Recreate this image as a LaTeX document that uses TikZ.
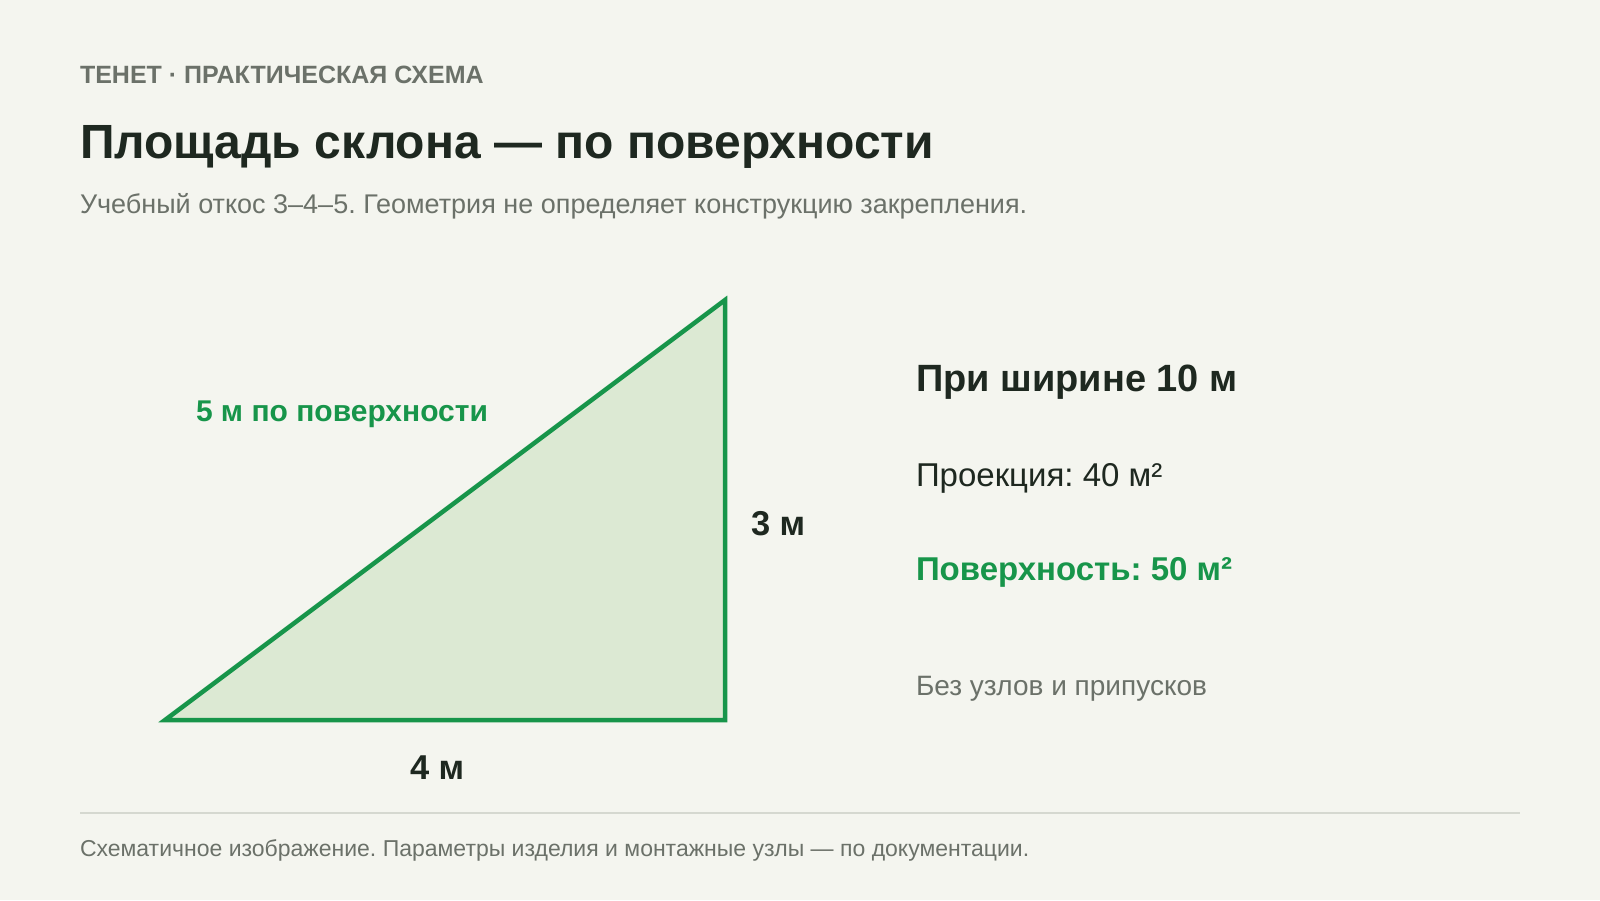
\documentclass[tikz,border=0pt]{standalone}
\usepackage{fontspec}
\setmainfont{Liberation Sans}
\definecolor{bg}{HTML}{F4F5EF}
\definecolor{ink}{HTML}{1E2820}
\definecolor{muted}{HTML}{6B7169}
\definecolor{grn}{HTML}{17954A}
\definecolor{grnfill}{HTML}{DCE9D3}
\definecolor{rule}{HTML}{D5D8D0}
\newcommand{\fs}[1]{\fontsize{#1}{#1}\selectfont\frenchspacing}
\begin{document}
\begin{tikzpicture}[x=1pt,y=-1pt,
  txt/.style={anchor=base west,inner sep=0pt,outer sep=0pt},
  dimlabel/.style={txt,text=ink,font=\fs{34.5}\bfseries}]
\fill[bg] (0,0) rectangle (1600,900);
\useasboundingbox (0,0) rectangle (1600,900);
% header
\node[txt,text=muted,font=\fs{25}\bfseries] (kicker) at (80,83) {ТЕНЕТ · ПРАКТИЧЕСКАЯ СХЕМА};
\node[txt,text=ink,font=\fs{48}\bfseries] (title) at (80,158) {Площадь склона — по поверхности};
\node[txt,text=muted,font=\fs{27}] (sub) at (80,213) {Учебный откос 3–4–5. Геометрия не определяет конструкцию закрепления.};
% triangle
\coordinate (A) at (165,720);
\coordinate (B) at (725,720);
\coordinate (C) at (725,300);
\filldraw[fill=grnfill,draw=grn,line width=4.5pt,line join=miter] (A) -- (B) -- (C) -- cycle;
\node[txt,text=grn,font=\fs{30}\bfseries] (hyp) at (196,421) {5 м по поверхности};
\node[dimlabel] (h) at (751,535) {3 м};
\node[dimlabel] (w) at (410,779) {4 м};
% right column
\node[txt,text=ink,font=\fs{38}\bfseries] (r1) at (916,391) {При ширине 10 м};
\node[txt,text=ink,font=\fs{33}] (r2) at (916,486) {Проекция: 40 м²};
\node[txt,text=grn,font=\fs{33}\bfseries] (r3) at (916,580) {Поверхность: 50 м²};
\node[txt,text=muted,font=\fs{28}] (r4) at (916,695) {Без узлов и припусков};
% footer
\coordinate (L1) at (80,813);
\coordinate (L2) at (1520,813);
\draw[rule,line width=1.5pt] (L1) -- (L2);
\node[txt,text=muted,font=\fs{23}] (foot) at (80,856) {Схематичное изображение. Параметры изделия и монтажные узлы — по документации.};
\end{tikzpicture}
\end{document}
